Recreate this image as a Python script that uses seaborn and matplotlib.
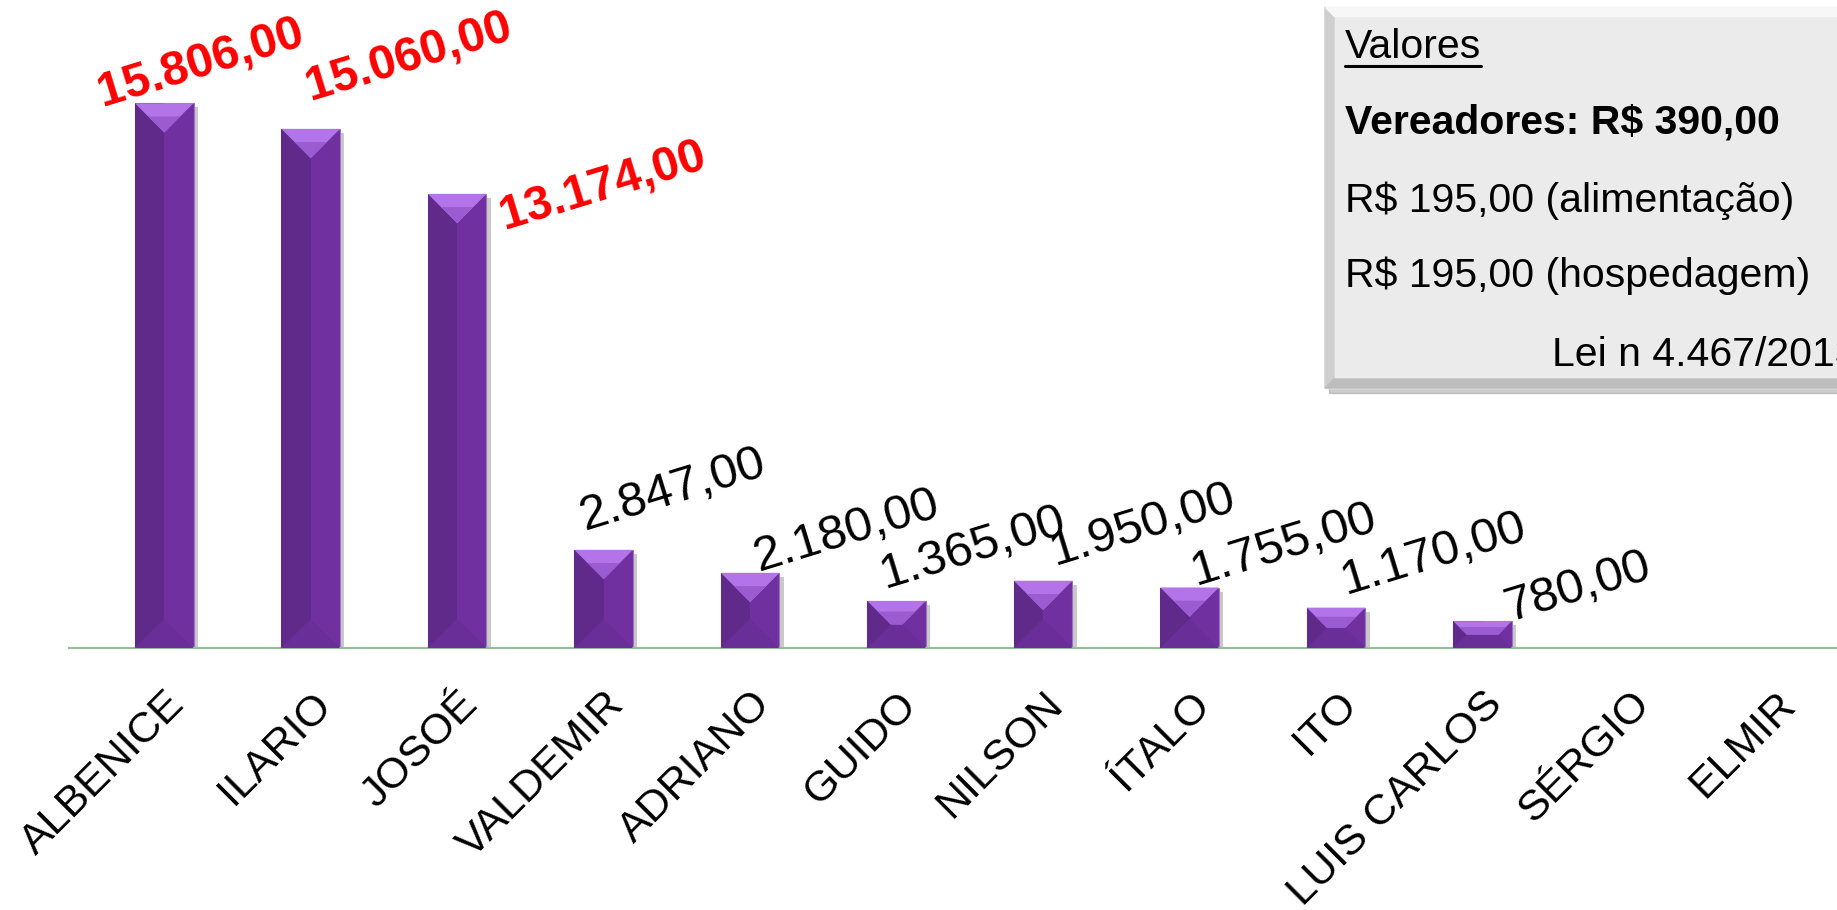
import numpy as np
import seaborn as sns
import matplotlib.pyplot as plt
from matplotlib.patches import Polygon, Rectangle
from matplotlib.lines import Line2D
import matplotlib.patheffects as pe

# dados
nomes = ['ALBENICE', 'ILARIO', 'JOSOÉ', 'VALDEMIR', 'ADRIANO', 'GUIDO',
         'NILSON', 'ÍTALO', 'ITO', 'LUIS CARLOS', 'SÉRGIO', 'ELMIR']
valores = [15806, 15060, 13174, 2847, 2180, 1365, 1950, 1755, 1170, 780, 0, 0]
rotulos = ['15.806,00', '15.060,00', '13.174,00', '2.847,00', '2.180,00',
           '1.365,00', '1.950,00', '1.755,00', '1.170,00', '780,00', '', '']
destaque = [True, True, True, False, False, False, False, False, False, False, False, False]

# deslocamento dos rótulos (pixels)
desloc_px = [(-61, -4), (0, 28), (48, -36), (-19, 20), (9, 2), (-12, 13),
             (11, 16), (6, 2), (9, 13), (27, 0), (0, 0), (0, 0)]

W, H = 1837, 910
sns.set_style('white')
plt.rcParams['font.family'] = ['Liberation Sans', 'DejaVu Sans']
plt.rcParams['text.color'] = 'black'
plt.rcParams['xtick.color'] = 'black'

fig = plt.figure(figsize=(W / 100, H / 100), dpi=100)
base_px = 648
ax = fig.add_axes([69 / W, (H - base_px) / H, 1831 / W, base_px / H])

sns.barplot(x=nomes, y=valores, color='#7030A0', saturation=1, width=0.4,
            ax=ax, edgecolor='#9b72c4', linewidth=0.8)
ax.set_xlim(-0.65, 11.85)
ax.set_ylim(0, 18800)
ax.set_yticks([])
ax.set_xlabel('')
ax.set_ylabel('')
for s in ['left', 'right', 'top']:
    ax.spines[s].set_visible(False)
ax.spines['bottom'].set_color('#9bbb9b')
ax.spines['bottom'].set_linewidth(1.6)
ax.tick_params(axis='x', length=0, pad=26)

# bisel das barras
p0 = ax.transData.transform((0, 0))
p1 = ax.transData.transform((1, 1))
sx, sy = p1[0] - p0[0], p1[1] - p0[1]
for barra in ax.patches:
    barra.set_path_effects([pe.SimplePatchShadow(offset=(3, -3), alpha=0.35, shadow_rgbFace='#666666'),
                            pe.Normal()])
    x, w, h = barra.get_x(), barra.get_width(), barra.get_height()
    if h <= 0:
        continue
    d = min(w * sx / 2, h * sy / 2)
    dx, dy = d / sx, d / sy
    ax.add_patch(Rectangle((x, 0), w / 2, h, color='#5f2a8a', zorder=3, lw=0))
    ax.add_patch(Polygon([(x, 0), (x + w, 0), (x + w - dx, dy), (x + dx, dy)],
                         closed=True, color='#6a2e98', zorder=3, lw=0))
    ax.add_patch(Polygon([(x, h), (x + w, h), (x + w - dx, h - dy), (x + dx, h - dy)],
                         closed=True, color='#b274e8', zorder=4, lw=0))
    ax.add_patch(Polygon([(x + dx * 0.45, h - dy * 0.45), (x + w - dx * 0.45, h - dy * 0.45),
                          (x + w - dx, h - dy), (x + dx, h - dy)],
                         closed=True, color='#9a5cd0', zorder=4, lw=0))

# rótulos de dados
for i, (v, txt) in enumerate(zip(valores, rotulos)):
    if not txt:
        continue
    ddx, ddy = desloc_px[i]
    if destaque[i]:
        kw = dict(color='#ff0000', fontweight='bold', fontsize=34.5)
    else:
        kw = dict(color='black', fontsize=35.5)
    ax.annotate(txt, xy=(i, v), xytext=(ddx * 0.72, ddy * 0.72), textcoords='offset points',
                ha='left', va='baseline', rotation=17, rotation_mode='anchor',
                annotation_clip=False, zorder=6, **kw)

# rótulos do eixo x
ax.set_xticks(range(len(nomes)))
ax.set_xticklabels(nomes, rotation=45, ha='right', va='top', rotation_mode='anchor', fontsize=31)


# caixa de valores
def fx(px):
    return px / W


def fy(py):
    return 1 - py / H


bx0, bx1, by0, by1, bv = 1325, 1860, 7, 388, 9
fig.patches.append(Rectangle((fx(bx0 + 4), fy(by1 + 5)), fx(bx1) - fx(bx0), fy(by0) - fy(by1),
                             transform=fig.transFigure, color='#9a9a9a', alpha=0.5, zorder=1))
fig.patches.append(Rectangle((fx(bx0), fy(by1)), fx(bx1) - fx(bx0), fy(by0) - fy(by1),
                             transform=fig.transFigure, color='#ebebeb', zorder=2))
fig.patches.append(Polygon([(fx(bx0), fy(by0)), (fx(bx0 + bv), fy(by0 + bv)),
                            (fx(bx0 + bv), fy(by1 - bv)), (fx(bx0), fy(by1))],
                           transform=fig.transFigure, color='#cfcfcf', zorder=3))
fig.patches.append(Polygon([(fx(bx0), fy(by1)), (fx(bx0 + bv), fy(by1 - bv)),
                            (fx(bx1), fy(by1 - bv)), (fx(bx1), fy(by1))],
                           transform=fig.transFigure, color='#bdbdbd', zorder=3))
fig.patches.append(Polygon([(fx(bx0), fy(by0)), (fx(bx1), fy(by0)),
                            (fx(bx1), fy(by0 + bv)), (fx(bx0 + bv), fy(by0 + bv))],
                           transform=fig.transFigure, color='#f7f7f7', zorder=3))

t_val = fig.text(fx(1345), fy(58), 'Valores', fontsize=29.5, va='baseline', zorder=5)
fig.text(fx(1345), fy(133), 'Vereadores: R$ 390,00', fontsize=29.5, fontweight='bold',
         va='baseline', zorder=5)
fig.text(fx(1345), fy(212), 'R$ 195,00 (alimentação)', fontsize=29.5, va='baseline', zorder=5)
fig.text(fx(1345), fy(287), 'R$ 195,00 (hospedagem)', fontsize=29.5, va='baseline', zorder=5)
fig.text(fx(1552), fy(366), 'Lei n 4.467/2013', fontsize=29.5, va='baseline', zorder=5)

fig.canvas.draw()
bb = t_val.get_window_extent()
fig.lines.append(Line2D([bb.x0 / W, bb.x1 / W], [fy(66), fy(66)], transform=fig.transFigure,
                        color='black', lw=2.2, zorder=5))

plt.savefig('out.png', dpi=100)
